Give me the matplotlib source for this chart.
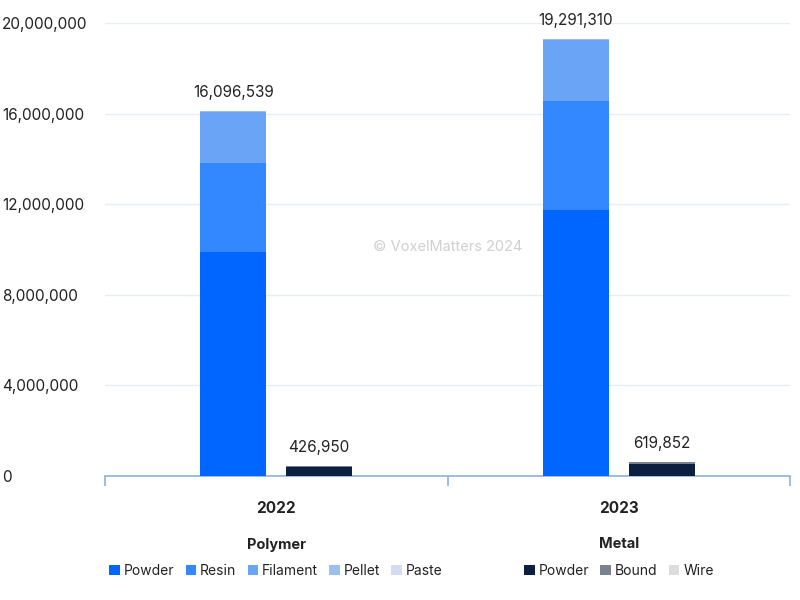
import matplotlib
matplotlib.use("Agg")
import matplotlib.pyplot as plt
from matplotlib.patches import Patch
from matplotlib.ticker import FuncFormatter, FixedLocator
import numpy as np

plt.rcParams['font.family'] = ['Inter', 'DejaVu Sans']

years = ["2022", "2023"]
polymer_names = ["Powder", "Resin", "Filament", "Pellet", "Paste"]
polymer_values = {
    "Powder": [9890000, 11750000],
    "Resin": [3930000, 4810000],
    "Filament": [2256539, 2671310],
    "Pellet": [18000, 55000],
    "Paste": [2000, 5000],
}
polymer_totals = [16096539, 19291310]
metal_names = ["Powder", "Bound", "Wire"]
metal_values = {
    "Powder": [402000, 540000],
    "Bound": [22000, 75000],
    "Wire": [2950, 4852],
}
metal_totals = [426950, 619852]
y_ticks = [0, 4000000, 8000000, 12000000, 16000000, 20000000]

polymer_colors = ["#0066ff", "#3388ff", "#6aa4f6", "#9dbfee", "#d3dcf0"]
metal_colors = ["#0b2040", "#7a828f", "#dcdcde"]

fig = plt.figure(figsize=(8, 6), dpi=100)
ax = fig.add_axes([105/800, 124/600, 685/800, 453/600])

x = np.arange(len(years))
off = 0.125
w = 0.193

bottom = np.zeros(len(years))
for name, c in zip(polymer_names, polymer_colors):
    v = np.array(polymer_values[name], dtype=float)
    ax.bar(x - off, v, w, bottom=bottom, color=c, linewidth=0, zorder=3)
    bottom += v
bottom = np.zeros(len(years))
for name, c in zip(metal_names, metal_colors):
    v = np.array(metal_values[name], dtype=float)
    ax.bar(x + off, v, w, bottom=bottom, color=c, linewidth=0, zorder=3)
    bottom += v

for i in range(len(years)):
    ax.annotate(f"{polymer_totals[i]:,}", (x[i] - off, polymer_totals[i]),
                xytext=(0, 8), textcoords="offset points", ha="center", va="bottom",
                fontsize=11, color="#222222")
    ax.annotate(f"{metal_totals[i]:,}", (x[i] + off, metal_totals[i]),
                xytext=(0, 8), textcoords="offset points", ha="center", va="bottom",
                fontsize=11, color="#222222")

ax.set_xlim(-0.5, 1.5)
ax.set_ylim(0, 20000000)
ax.set_yticks(y_ticks)
ax.yaxis.set_major_formatter(FuncFormatter(lambda v, p: f"{int(v):,}"))
ax.tick_params(axis="y", length=0, pad=103 * 0.72, labelsize=11, labelcolor="#222222")
for lab in ax.get_yticklabels():
    lab.set_horizontalalignment("left")
ax.grid(axis="y", color="#e6edf7", linewidth=1, zorder=0)
for s in ["top", "right", "left"]:
    ax.spines[s].set_visible(False)
ax.spines["bottom"].set_color("#8fb0e0")
ax.spines["bottom"].set_linewidth(1.2)

ax.set_xticks(x)
ax.set_xticklabels(years, fontsize=11, fontweight="bold", color="#222222")
ax.tick_params(axis="x", which="major", length=0, pad=18)
ax.xaxis.set_minor_locator(FixedLocator([-0.5, 0.5, 1.5]))
ax.tick_params(axis="x", which="minor", length=7, color="#8fb0e0", width=1.2)

ax.text(0.5, 0.505, "© VoxelMatters 2024", transform=ax.transAxes, ha="center",
        va="center", fontsize=10.5, color="#cfcfd4", zorder=1)

ph = [Patch(facecolor=c, edgecolor="none") for c in polymer_colors]
mh = [Patch(facecolor=c, edgecolor="none") for c in metal_colors]
common = dict(loc="upper center", frameon=False, fontsize=10, handlelength=0.75,
              handleheight=0.75, handletextpad=0.3, columnspacing=0.8,
              title_fontproperties={"weight": "bold", "size": 10.5})
leg1 = fig.legend(ph, polymer_names, ncol=5, title="Polymer",
                  bbox_to_anchor=(276/800, 1 - 525/600), **common)
leg2 = fig.legend(mh, metal_names, ncol=3, title="Metal",
                  bbox_to_anchor=(619/800, 1 - 525/600), **common)
for leg in (leg1, leg2):
    leg._legend_box.sep = 9
    for t in leg.get_texts():
        t.set_color("#222222")
    leg.get_title().set_color("#222222")

fig.savefig("out.png", dpi=100)
